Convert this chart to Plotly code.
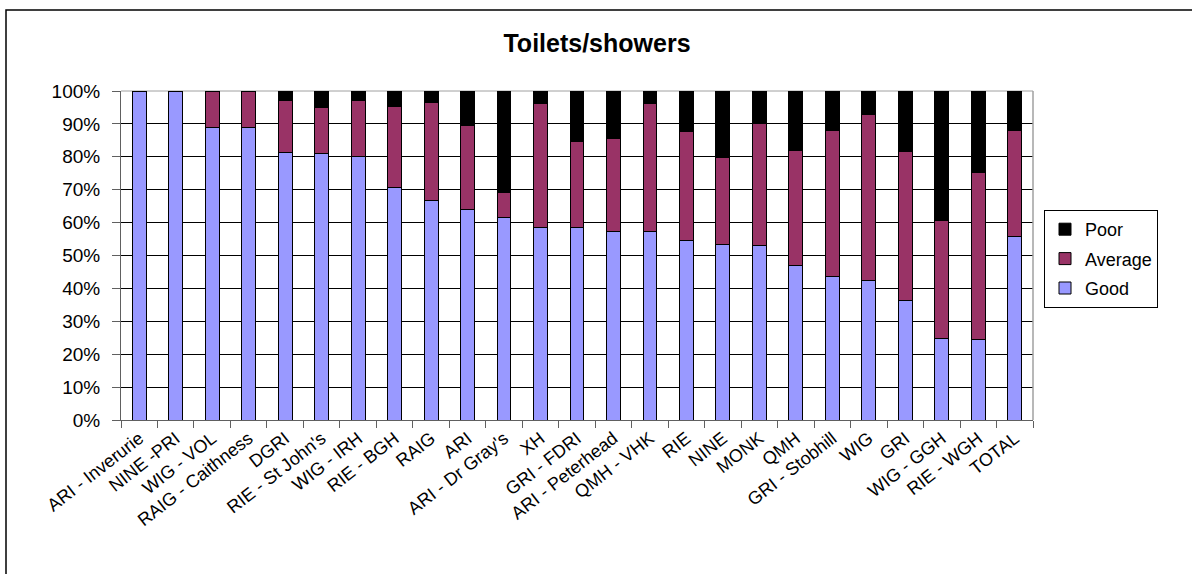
import plotly.graph_objects as go

# Ward / site names along the category axis
sites = [
    "ARI - Inverurie", "NINE -PRI", "WIG - VOL", "RAIG - Caithness", "DGRI",
    "RIE - St John's", "WIG - IRH", "RIE - BGH", "RAIG", "ARI",
    "ARI - Dr Gray's", "XH", "GRI - FDRI", "ARI - Peterhead", "QMH - VHK",
    "RIE", "NINE", "MONK", "QMH", "GRI - Stobhill",
    "WIG", "GRI", "WIG - GGH", "RIE - WGH", "TOTAL",
]

# Share of responses per rating (percent)
good = [100, 100, 89, 89, 81.4, 81, 80, 70.7, 66.8, 64.1,
        61.6, 58.4, 58.4, 57.3, 57.3, 54.6, 53.4, 52.9, 47.1, 43.5,
        42.3, 36.4, 24.9, 24.6, 55.8]
average = [0, 0, 11, 11, 15.6, 14.1, 17, 24.7, 29.8, 25.4,
           7.4, 37.8, 26.4, 28.2, 38.9, 33.0, 26.3, 37.1, 34.9, 44.4,
           50.7, 45.2, 35.7, 50.6, 32.1]
poor = [0, 0, 0, 0, 3, 4.9, 3, 4.6, 3.4, 10.5,
        31, 3.8, 15.2, 14.5, 3.8, 12.4, 20.3, 10, 18, 12.1,
        7, 18.4, 39.4, 24.8, 12.1]

y_ticks = list(range(0, 101, 10))
y_tick_labels = [f"{v}%" for v in y_ticks]

FONT = "Arial, Liberation Sans, sans-serif"

fig = go.Figure()
# stacked bottom-to-top; legend lists Poor first
for name, vals, color, rank in [
    ("Good", good, "#9999FF", 3),
    ("Average", average, "#993366", 2),
    ("Poor", poor, "#000000", 1),
]:
    fig.add_trace(go.Bar(
        x=sites, y=vals, name=name, legendgroup=name, legendrank=rank,
        marker=dict(color=color, line=dict(color="#000000", width=1)),
    ))

W, H = 1192, 574
L, R, T, B = 121, 159, 91, 154
pw, ph = W - L - R, H - T - B

def px_x(px):
    return (px - L) / pw

def px_y(py):
    return (H - B - py) / ph

fig.update_layout(
    width=W, height=H,
    margin=dict(l=L, r=R, t=T, b=B),
    paper_bgcolor="white", plot_bgcolor="white",
    barmode="stack", bargap=0.62,
    font=dict(family=FONT, size=17, color="#000000"),
    title=dict(text="<b>Toilets/showers</b>", x=597 / W, xref="container",
               xanchor="center", y=1 - 43 / H, yref="container",
               yanchor="middle",
               font=dict(family=FONT, size=25, color="#000000")),
    showlegend=True,
    legend=dict(
        x=px_x(1044), y=px_y(210), xanchor="left", yanchor="top",
        traceorder="grouped", tracegroupgap=3,
        bordercolor="#000000", borderwidth=1, bgcolor="white",
        font=dict(family=FONT, size=18, color="#000000"),
        itemwidth=30,
    ),
    xaxis=dict(
        type="category", tickangle=-38, tickson="boundaries",
        ticks="outside", ticklen=7, tickcolor="#606060",
        showline=True, linecolor="#606060", linewidth=1, mirror=False,
        showgrid=False, range=[-0.5, len(sites) - 0.5],
        tickfont=dict(family=FONT, size=18, color="#000000"),
    ),
    yaxis=dict(
        range=[0, 100], tickmode="array", tickvals=y_ticks,
        ticktext=y_tick_labels,
        ticks="outside", ticklen=8, tickcolor="#606060",
        ticklabelstandoff=8,
        showline=True, linecolor="#606060", linewidth=1,
        showgrid=True, gridcolor="#000000", gridwidth=1,
        zeroline=False,
        tickfont=dict(family=FONT, size=19, color="#000000"),
    ),
    shapes=[
        # plot-area frame (top and right edges in grey)
        dict(type="line", xref="paper", yref="paper", x0=0, x1=1, y0=1, y1=1,
             line=dict(color="#A0A0A0", width=1), layer="below"),
        dict(type="line", xref="paper", yref="paper", x0=1, x1=1, y0=0, y1=1,
             line=dict(color="#A0A0A0", width=1.5), layer="above"),
        # outer chart border
        dict(type="rect", xref="paper", yref="paper",
             x0=px_x(6), x1=px_x(W + 20), y0=px_y(10), y1=px_y(H + 20),
             line=dict(color="#000000", width=1.5)),
    ],
)

fig.write_html("out.html")
